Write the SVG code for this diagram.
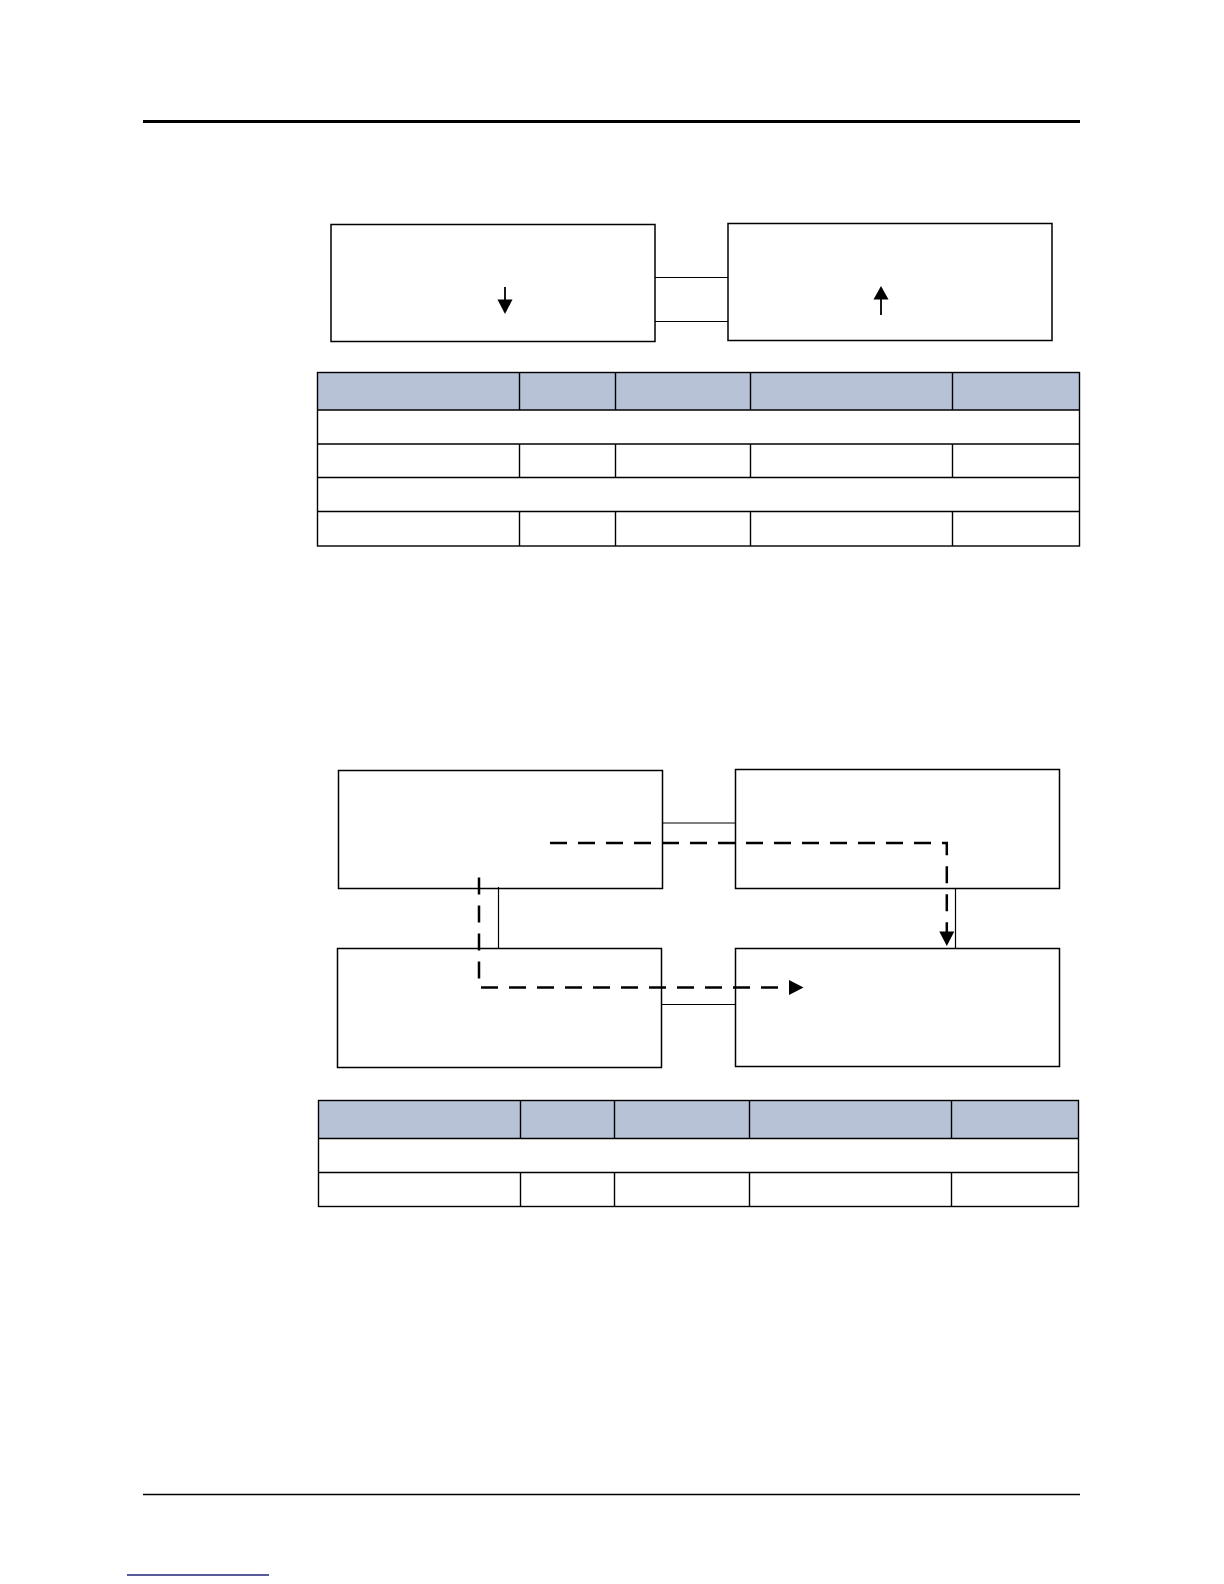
<svg xmlns="http://www.w3.org/2000/svg" width="1224" height="1584" viewBox="0 0 1224 1584">
  <style>
    .box { fill: #ffffff; stroke: #000000; stroke-width: 1.5; }
    .link { fill: none; stroke: #000000; stroke-width: 1.2; }
    .flow { fill: none; stroke: #000000; stroke-width: 2.5; stroke-dasharray: 17 11; }
    .arr { fill: none; stroke: #000000; stroke-width: 1.8; }
    .head { fill: #000000; stroke: none; }
    .hdr { fill: #B7C2D7; stroke: none; }
    .grid { fill: none; stroke: #000000; stroke-width: 1.4; }
  </style>

  <rect x="0" y="0" width="1224" height="1584" fill="#ffffff"/>

  <!-- page rules -->
  <g id="page-rules">
    <line x1="143" y1="121.5" x2="1080" y2="121.5" stroke="#000000" stroke-width="3"/>
    <line x1="143" y1="1494.5" x2="1080" y2="1494.5" stroke="#000000" stroke-width="1.3"/>
    <line x1="127" y1="1575" x2="269" y2="1575" stroke="#1F237A" stroke-width="1.3"/>
  </g>

  <!-- Diagram 1 nodes -->
  <g id="node-a">
    <rect class="box" x="331" y="224.5" width="324" height="117"/>
    <line class="arr" x1="505" y1="287" x2="505" y2="301"/>
    <polygon class="head" points="497.5,299.5 512.5,299.5 505,314"/>
  </g>
  <g id="node-b">
    <rect class="box" x="728" y="223.5" width="324" height="117"/>
    <line class="arr" x1="881" y1="298" x2="881" y2="315"/>
    <polygon class="head" points="873.5,299.5 888.5,299.5 881,286"/>
  </g>

  <!-- Diagram 2 nodes -->
  <g id="node-c">
    <rect class="box" x="338.5" y="770.5" width="324" height="118"/>
  </g>
  <g id="node-d">
    <rect class="box" x="735.5" y="769.5" width="324" height="119"/>
  </g>
  <g id="node-e">
    <rect class="box" x="337.5" y="948.5" width="324" height="119"/>
  </g>
  <g id="node-f">
    <rect class="box" x="735.5" y="948.5" width="324" height="118"/>
  </g>

  <!-- connectors -->
  <g id="connectors">
    <line class="link" x1="655" y1="277.5" x2="728" y2="277.5"/>
    <line class="link" x1="655" y1="321.5" x2="728" y2="321.5"/>

    <line class="link" x1="662.5" y1="823" x2="735.5" y2="823"/>
    <line class="link" x1="498.5" y1="887" x2="498.5" y2="948.5"/>
    <line class="link" x1="955.5" y1="888.5" x2="955.5" y2="948.5"/>
    <line class="link" x1="661.5" y1="1004.5" x2="735.5" y2="1004.5"/>

    <polyline class="flow" points="550,843 946.8,843 946.8,933"/>
    <polygon class="head" points="939.3,931.5 954.3,931.5 946.8,946"/>

    <polyline class="flow" points="479,877.5 479,987.5 790,987.5"/>
    <polygon class="head" points="789,980 789,995 803.5,987.5"/>
  </g>

  <!-- Table 1 -->
  <g id="table-1">
    <rect class="hdr" x="317.5" y="372.5" width="762" height="37.5"/>
    <rect class="grid" x="317.5" y="372.5" width="762" height="173.5"/>
    <line class="grid" x1="317.5" y1="410" x2="1079.5" y2="410"/>
    <line class="grid" x1="317.5" y1="444" x2="1079.5" y2="444"/>
    <line class="grid" x1="317.5" y1="477.5" x2="1079.5" y2="477.5"/>
    <line class="grid" x1="317.5" y1="511.5" x2="1079.5" y2="511.5"/>
    <line class="grid" x1="519.5" y1="372.5" x2="519.5" y2="410"/>
    <line class="grid" x1="615.5" y1="372.5" x2="615.5" y2="410"/>
    <line class="grid" x1="750.5" y1="372.5" x2="750.5" y2="410"/>
    <line class="grid" x1="952.5" y1="372.5" x2="952.5" y2="410"/>
    <line class="grid" x1="519.5" y1="444" x2="519.5" y2="477.5"/>
    <line class="grid" x1="615.5" y1="444" x2="615.5" y2="477.5"/>
    <line class="grid" x1="750.5" y1="444" x2="750.5" y2="477.5"/>
    <line class="grid" x1="952.5" y1="444" x2="952.5" y2="477.5"/>
    <line class="grid" x1="519.5" y1="511.5" x2="519.5" y2="546"/>
    <line class="grid" x1="615.5" y1="511.5" x2="615.5" y2="546"/>
    <line class="grid" x1="750.5" y1="511.5" x2="750.5" y2="546"/>
    <line class="grid" x1="952.5" y1="511.5" x2="952.5" y2="546"/>
  </g>

  <!-- Table 2 -->
  <g id="table-2">
    <rect class="hdr" x="318.5" y="1100.5" width="760" height="38"/>
    <rect class="grid" x="318.5" y="1100.5" width="760" height="106"/>
    <line class="grid" x1="318.5" y1="1138.5" x2="1078.5" y2="1138.5"/>
    <line class="grid" x1="318.5" y1="1172.5" x2="1078.5" y2="1172.5"/>
    <line class="grid" x1="520.5" y1="1100.5" x2="520.5" y2="1138.5"/>
    <line class="grid" x1="614.5" y1="1100.5" x2="614.5" y2="1138.5"/>
    <line class="grid" x1="749.5" y1="1100.5" x2="749.5" y2="1138.5"/>
    <line class="grid" x1="951.5" y1="1100.5" x2="951.5" y2="1138.5"/>
    <line class="grid" x1="520.5" y1="1172.5" x2="520.5" y2="1206.5"/>
    <line class="grid" x1="614.5" y1="1172.5" x2="614.5" y2="1206.5"/>
    <line class="grid" x1="749.5" y1="1172.5" x2="749.5" y2="1206.5"/>
    <line class="grid" x1="951.5" y1="1172.5" x2="951.5" y2="1206.5"/>
  </g>
</svg>
